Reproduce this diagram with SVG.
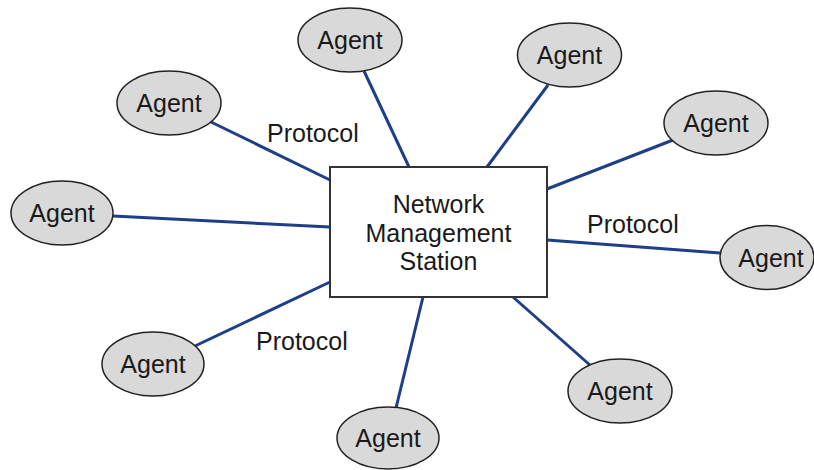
<svg xmlns="http://www.w3.org/2000/svg" width="814" height="470" viewBox="0 0 814 470">
<style>
.agent ellipse{fill:#d9d9d9;stroke:#222;stroke-width:1.5}
text{font-family:"Liberation Sans",Arial,sans-serif;font-size:25px;fill:#1a1a1a}
.c{text-anchor:middle}
#connectors line{stroke:#1d3f87;stroke-width:3;stroke-linecap:butt}
</style>
<rect width="814" height="470" fill="#fff"/>
<g id="connectors">
<line x1="364" y1="71" x2="409" y2="167"/>
<line x1="548" y1="85" x2="487" y2="167"/>
<line x1="673" y1="140" x2="547" y2="189"/>
<line x1="547" y1="240" x2="720" y2="253"/>
<line x1="513" y1="297" x2="591" y2="366"/>
<line x1="423" y1="297" x2="396" y2="408"/>
<line x1="330" y1="282" x2="195" y2="346"/>
<line x1="113" y1="216" x2="330" y2="227"/>
<line x1="211" y1="122" x2="330" y2="180"/>
</g>
<g id="station">
<rect x="330" y="167" width="217" height="130" fill="#fff" stroke="#333" stroke-width="2"/>
<text class="c" x="438.5" y="213">Network</text>
<text class="c" x="438.5" y="242">Management</text>
<text class="c" x="438.5" y="270">Station</text>
</g>
<g id="agent1" class="agent"><ellipse cx="350" cy="40" rx="52" ry="32"/><text class="c" x="350" y="49">Agent</text></g>
<g id="agent2" class="agent"><ellipse cx="569.5" cy="55" rx="52" ry="32"/><text class="c" x="569.5" y="64">Agent</text></g>
<g id="agent3" class="agent"><ellipse cx="716" cy="123" rx="52" ry="32"/><text class="c" x="716" y="132">Agent</text></g>
<g id="agent4" class="agent"><ellipse cx="767" cy="257.5" rx="47" ry="32"/><text class="c" x="771" y="266.5">Agent</text></g>
<g id="agent5" class="agent"><ellipse cx="620" cy="391" rx="52" ry="32"/><text class="c" x="620" y="400">Agent</text></g>
<g id="agent6" class="agent"><ellipse cx="388" cy="438" rx="51" ry="31"/><text class="c" x="388" y="447">Agent</text></g>
<g id="agent7" class="agent"><ellipse cx="153" cy="364" rx="51" ry="32"/><text class="c" x="153" y="373">Agent</text></g>
<g id="agent8" class="agent"><ellipse cx="62" cy="213" rx="51" ry="32"/><text class="c" x="62" y="222">Agent</text></g>
<g id="agent9" class="agent"><ellipse cx="169" cy="103" rx="52" ry="32"/><text class="c" x="169" y="112">Agent</text></g>
<g id="labels">
<text x="267" y="142">Protocol</text>
<text x="587" y="233">Protocol</text>
<text x="256" y="350">Protocol</text>
</g>
</svg>
